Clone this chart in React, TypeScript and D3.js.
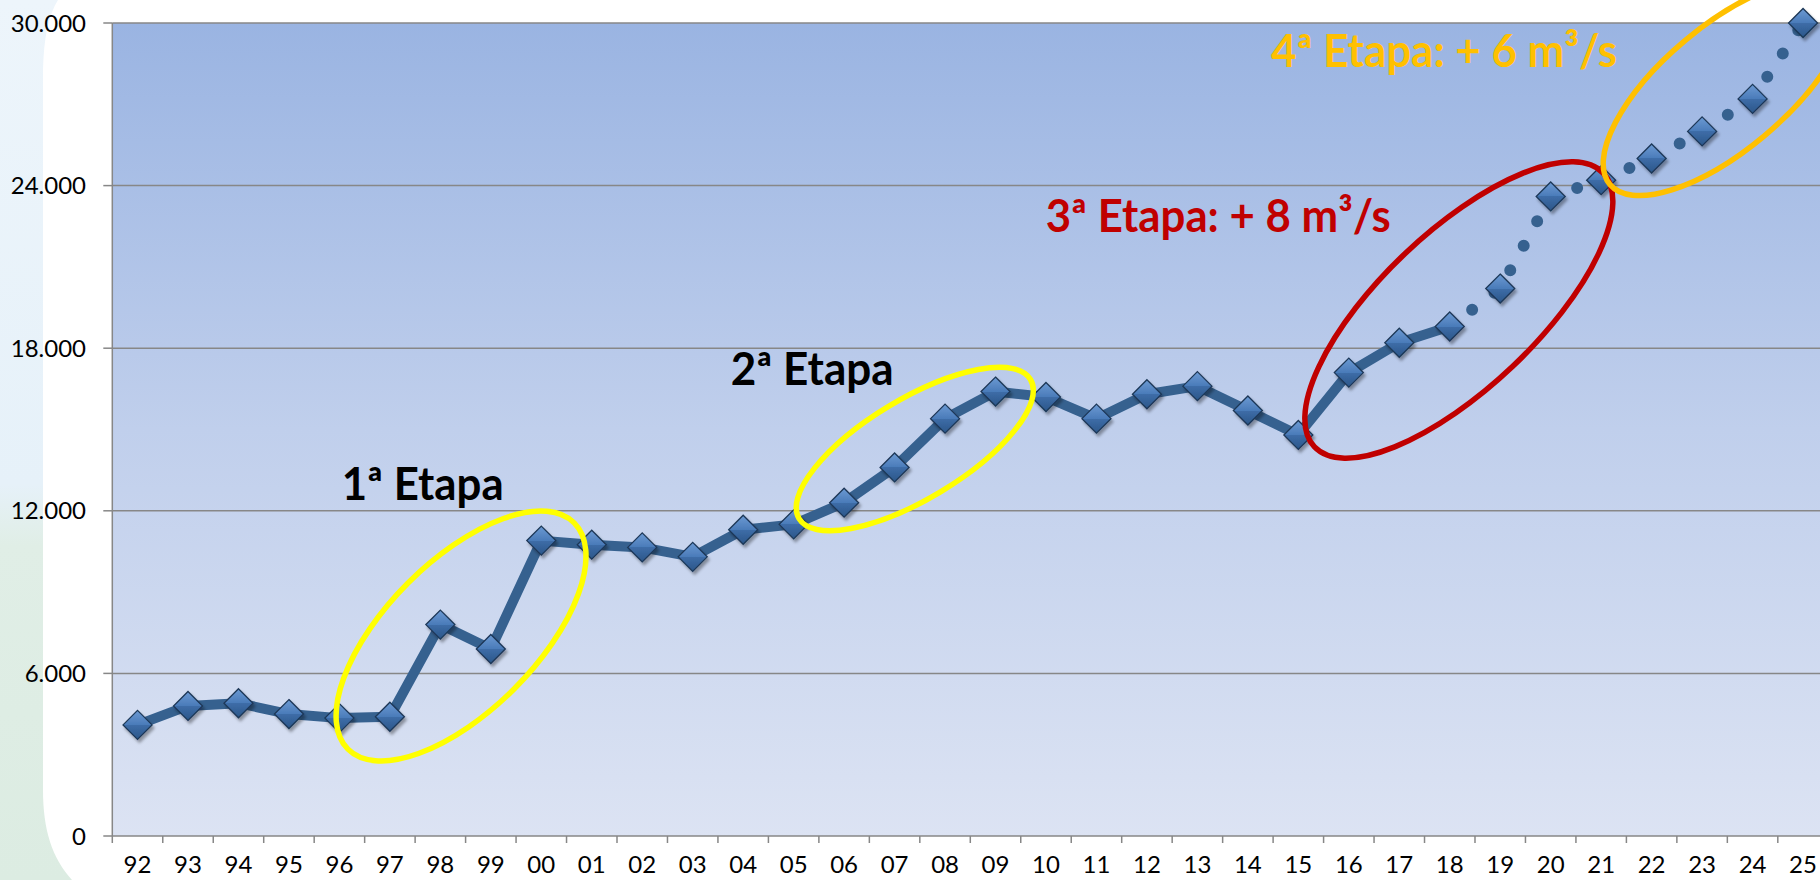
import React from 'react';
import * as d3 from 'd3';

const years = ['92', '93', '94', '95', '96', '97', '98', '99', '00', '01', '02', '03', '04', '05', '06', '07', '08',
  '09', '10', '11', '12', '13', '14', '15', '16', '17', '18', '19', '20', '21', '22', '23', '24', '25'];

const flow = [4100, 4800, 4900, 4500, 4350, 4400, 7800, 6900, 10900, 10750, 10650, 10300, 11300, 11500, 12300,
  13600, 15400, 16400, 16200, 15400, 16300, 16600, 15700, 14800, 17100, 18200, 18800, 20200, 23600, 24200,
  25000, 26000, 27200, 30000];

const yTicks = [0, 6000, 12000, 18000, 24000, 30000];

// last year drawn with the solid line, the rest is the projection
const lastMeasured = '18';

const stages = ['1ª Etapa', '2ª Etapa', '3ª Etapa: + 8 m³/s', '4ª Etapa: + 6 m³/s'];

const W = 1820;
const H = 880;
const left = 112.3;
const bandW = 50.47;
const top = 23;
const bottom = 836;

const fmt = d3.formatLocale({ decimal: ',', thousands: '.', grouping: [3], currency: ['', ''] }).format(',d');

const App = () => {
  const x = d3.scaleBand<string>().domain(years).range([left, left + bandW * years.length]).padding(0);
  const y = d3.scaleLinear().domain([0, 30000]).range([bottom, top]);
  const cx = (d: string) => (x(d) as number) + x.bandwidth() / 2;
  // fractional category position for annotations
  const fx = (i: number) => left + (i + 0.5) * bandW;

  const pts = years.map((d, i) => [cx(d), y(flow[i])] as [number, number]);
  const cut = years.indexOf(lastMeasured);
  const line = d3.line().curve(d3.curveLinear);
  const solid = line(pts.slice(0, cut + 1)) as string;
  const dotted = line(pts.slice(cut)) as string;

  const ellipses = [
    { i: 6.41, v: 7380, a: 160, b: 75, rot: -45, color: '#FFFF00' },
    { i: 15.4, v: 14280, a: 135, b: 50, rot: -31, color: '#FFFF00' },
    { i: 26.18, v: 19410, a: 199, b: 78, rot: -43.5, color: '#C00000' },
    { i: 31.45, v: 27600, a: 150, b: 62, rot: -40, color: '#FFC000' },
  ];

  const labels = [
    { x: 341.7, v: 12400, len: 162, color: '#000000' },
    { x: 730.7, v: 16640, len: 163, color: '#000000' },
    { x: 1045.7, v: 22300, len: 345, color: '#C00000' },
    { x: 1271, v: 28380, len: 346, color: '#FFC000' },
  ];

  const font = "Lato, 'Open Sans', sans-serif";
  const dm = 14.5;

  return (
    <div style={{ position: 'absolute', left: 0, top: 0 }}>
      <svg width={W} height={H} style={{ display: 'block' }}>
        <defs>
          <linearGradient id="plotBg" x1="0" y1="0" x2="0" y2="1">
            <stop offset="0" stopColor="#9AB4E2" />
            <stop offset="0.5" stopColor="#C0CFEC" />
            <stop offset="1" stopColor="#DCE3F3" />
          </linearGradient>
          <linearGradient id="strip" x1="0" y1="0" x2="0" y2="1">
            <stop offset="0" stopColor="#EDF5FB" />
            <stop offset="0.55" stopColor="#E6F1F9" />
            <stop offset="0.62" stopColor="#E0EEE6" />
            <stop offset="1" stopColor="#DCECE2" />
          </linearGradient>
          <linearGradient id="mk" x1="0" y1="0" x2="0" y2="1">
            <stop offset="0" stopColor="#6C9AD3" />
            <stop offset="0.5" stopColor="#4A7BB9" />
            <stop offset="0.5" stopColor="#3E6DA8" />
            <stop offset="1" stopColor="#2B5689" />
          </linearGradient>
          <filter id="sh" x="-50%" y="-50%" width="200%" height="200%">
            <feDropShadow dx="2" dy="3" stdDeviation="1.5" floodColor="#000" floodOpacity="0.35" />
          </filter>
          <clipPath id="clip">
            <rect x={0} y={0} width={W} height={H} />
          </clipPath>
        </defs>

        {/* slide background */}
        <rect x={0} y={0} width={W} height={H} fill="#ffffff" />
        <rect x={0} y={0} width={120} height={H} fill="url(#strip)" />
        <path d={`M58,0 Q44,22 43,70 L43,790 C43,830 52,858 72,880 L${W},880 L${W},0 Z`} fill="#ffffff" />

        {/* plot area */}
        <rect x={left} y={top} width={bandW * years.length} height={bottom - top} fill="url(#plotBg)" />
        {yTicks.filter(t => t > 0).map(t => (
          <line key={t} x1={left} x2={left + bandW * years.length} y1={y(t)} y2={y(t)} stroke="#878787" strokeWidth={1.5} />
        ))}
        <line x1={left} x2={left} y1={top} y2={bottom} stroke="#878787" strokeWidth={1.5} />
        <line x1={left} x2={left + bandW * years.length} y1={bottom} y2={bottom} stroke="#878787" strokeWidth={1.5} />
        {yTicks.map(t => (
          <g key={t}>
            <line x1={left - 9} x2={left} y1={y(t)} y2={y(t)} stroke="#878787" strokeWidth={1.5} />
            <text x={86} y={y(t)} dy="0.36em" textAnchor="end" fontFamily={font} fontSize={24} fill="#000">
              {fmt(t)}
            </text>
          </g>
        ))}
        {years.map((d, i) => (
          <g key={d}>
            <line x1={x(d) as number} x2={x(d) as number} y1={bottom} y2={bottom + 7} stroke="#878787" strokeWidth={1.5} />
            <text x={cx(d)} y={873} textAnchor="middle" fontFamily={font} fontSize={24} fill="#000">{d}</text>
          </g>
        ))}

        {/* series */}
        <path d={solid} fill="none" stroke="#36618F" strokeWidth={10} strokeLinejoin="round" />
        <path d={dotted} fill="none" stroke="#36618F" strokeWidth={12} strokeLinecap="round" strokeDasharray="0 28" />
        {pts.map(([px, py], i) => (
          <path key={years[i]} d={`M${px},${py - dm} L${px + dm},${py} L${px},${py + dm} L${px - dm},${py} Z`}
            fill="url(#mk)" stroke="#1C3757" strokeWidth={1.3} filter="url(#sh)" />
        ))}

        {/* stages */}
        <g clipPath="url(#clip)">
          {ellipses.map((e, k) => (
            <ellipse key={k} cx={0} cy={0} rx={e.a} ry={e.b} fill="none" stroke={e.color} strokeWidth={5.5}
              transform={`translate(${fx(e.i)},${y(e.v)}) rotate(${e.rot})`} />
          ))}
        </g>
        {labels.map((l, k) => (
          <text key={k} x={l.x} y={y(l.v)} fontFamily={font} fontWeight="bold" fontSize={45} fill={l.color}
            textLength={l.len} lengthAdjust="spacingAndGlyphs">
            {stages[k]}
          </text>
        ))}
      </svg>
    </div>
  );
};

export default App;
